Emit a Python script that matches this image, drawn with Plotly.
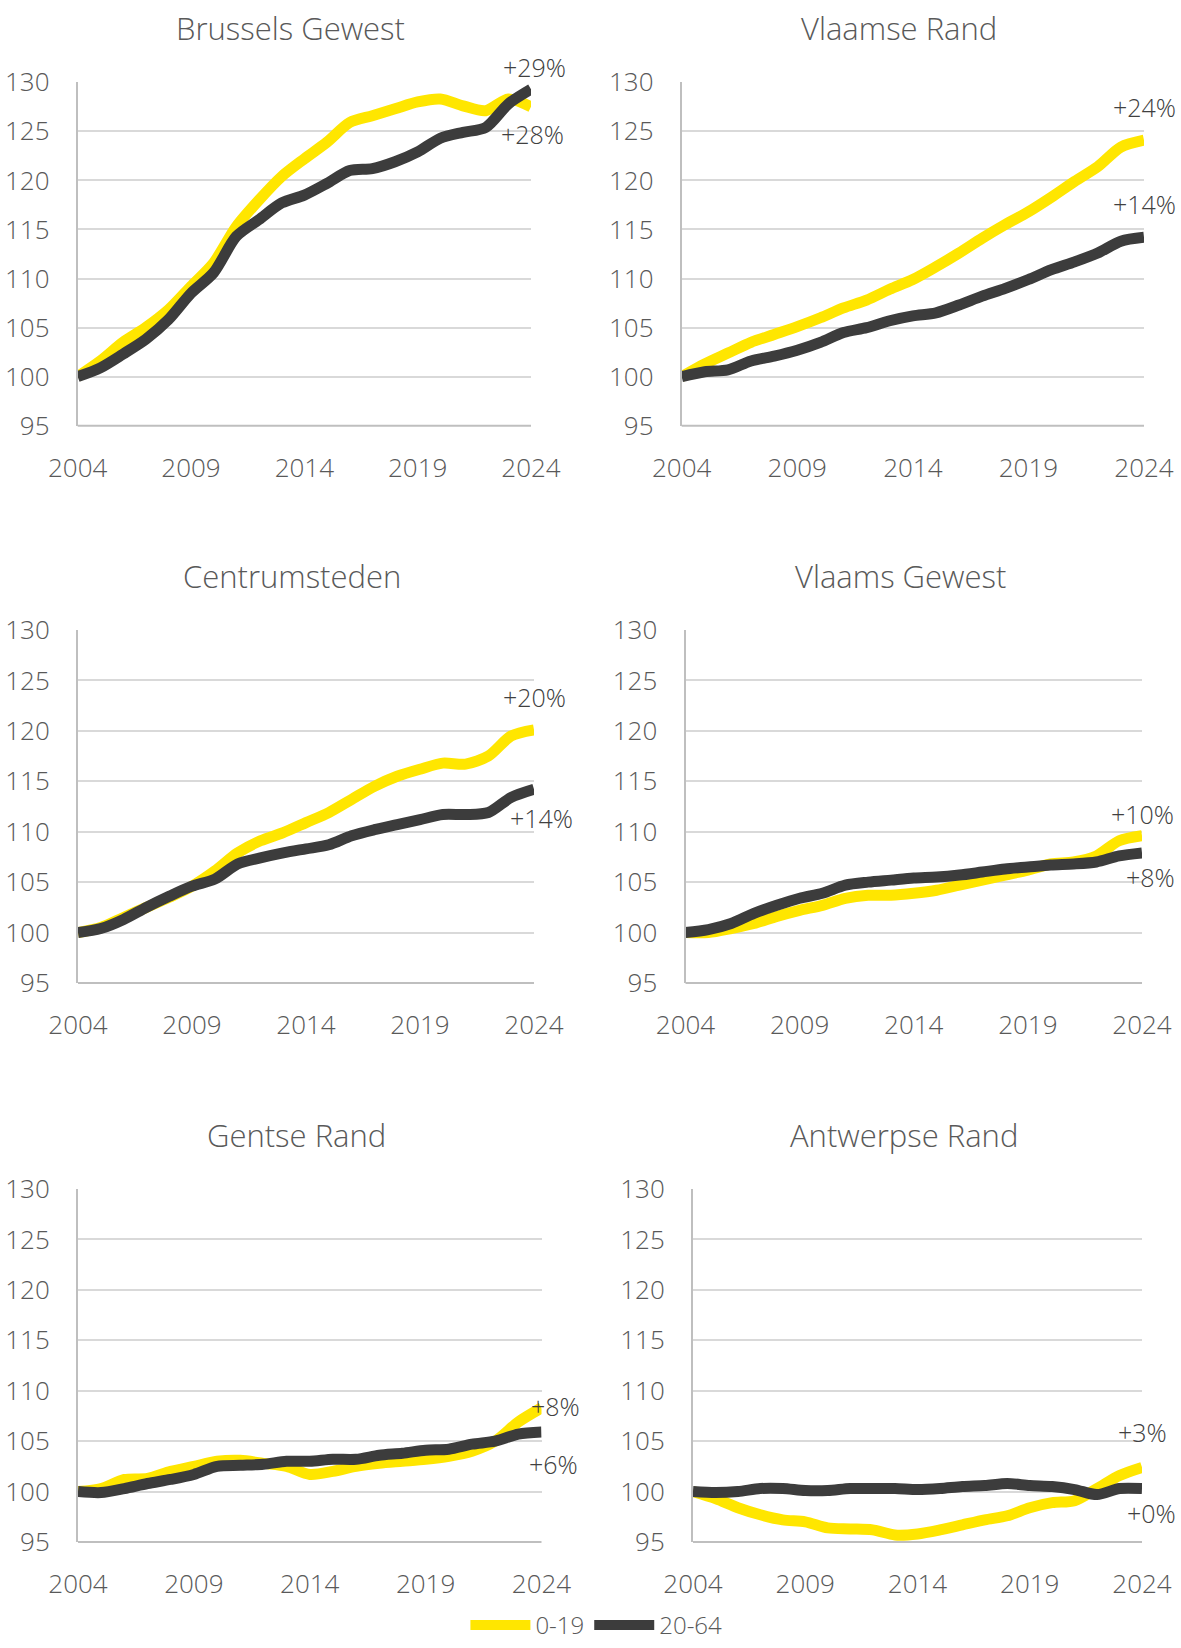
import plotly.graph_objects as go

# ---------------- data ----------------
years = list(range(2004, 2025))
x_ticks = [2004, 2009, 2014, 2019, 2024]
y_ticks = [95, 100, 105, 110, 115, 120, 125, 130]

panel_titles = ["Brussels Gewest", "Vlaamse Rand", "Centrumsteden",
                "Vlaams Gewest", "Gentse Rand", "Antwerpse Rand"]
series_names = ["0-19", "20-64"]

brussels_0_19 = [100, 101.6, 103.5, 105.0, 106.8, 109.2, 111.6, 115.3, 118.0, 120.4, 122.2,
                 123.9, 125.9, 126.6, 127.3, 128.0, 128.3, 127.6, 127.1, 128.3, 127.5]
brussels_20_64 = [100, 100.9, 102.3, 103.8, 105.8, 108.5, 110.6, 114.3, 116.0, 117.7, 118.5,
                  119.7, 121.0, 121.2, 121.9, 122.9, 124.3, 124.9, 125.4, 127.8, 129.3]

vlrand_0_19 = [100, 101.3, 102.4, 103.5, 104.3, 105.1, 106.0, 107.0, 107.8, 108.9, 109.9,
               111.2, 112.6, 114.1, 115.5, 116.8, 118.3, 119.9, 121.4, 123.4, 124.1]
vlrand_20_64 = [100, 100.5, 100.7, 101.6, 102.1, 102.7, 103.5, 104.5, 105.0, 105.7, 106.2,
                106.5, 107.3, 108.2, 109.0, 109.9, 110.9, 111.7, 112.6, 113.8, 114.2]

centrum_0_19 = [100, 100.5, 101.5, 102.5, 103.5, 104.6, 106.1, 107.9, 109.1, 109.9, 110.9,
                111.9, 113.2, 114.5, 115.5, 116.2, 116.8, 116.7, 117.5, 119.5, 120.1]
centrum_20_64 = [100, 100.4, 101.3, 102.5, 103.6, 104.6, 105.3, 106.8, 107.4, 107.9, 108.3,
                 108.7, 109.6, 110.2, 110.7, 111.2, 111.7, 111.7, 111.9, 113.4, 114.2]

vlgewest_0_19 = [100, 100.0, 100.4, 100.9, 101.6, 102.2, 102.7, 103.4, 103.7, 103.7, 103.9,
                 104.2, 104.7, 105.2, 105.7, 106.2, 106.8, 107.0, 107.6, 109.1, 109.6]
vlgewest_20_64 = [100, 100.3, 100.9, 101.9, 102.7, 103.4, 103.9, 104.7, 105.0, 105.2, 105.4,
                  105.5, 105.7, 106.0, 106.3, 106.5, 106.7, 106.8, 107.0, 107.6, 107.9]

gent_0_19 = [100, 100.3, 101.2, 101.3, 102.0, 102.5, 103.0, 103.1, 102.8, 102.5, 101.7,
             102.0, 102.5, 102.8, 103.0, 103.2, 103.5, 104.0, 105.0, 106.9, 108.3]
gent_20_64 = [100, 99.9, 100.3, 100.8, 101.2, 101.7, 102.5, 102.6, 102.7, 103.0, 103.0,
              103.2, 103.2, 103.6, 103.8, 104.1, 104.2, 104.7, 105.0, 105.7, 105.9]

antw_0_19 = [100, 99.3, 98.4, 97.7, 97.2, 97.0, 96.4, 96.3, 96.2, 95.7, 95.8,
             96.2, 96.7, 97.2, 97.6, 98.4, 98.9, 99.1, 100.3, 101.6, 102.4]
antw_20_64 = [100, 99.9, 100.0, 100.3, 100.3, 100.1, 100.1, 100.3, 100.3, 100.3, 100.2,
              100.3, 100.5, 100.6, 100.8, 100.6, 100.5, 100.2, 99.7, 100.3, 100.3]

values_0_19 = [brussels_0_19, vlrand_0_19, centrum_0_19, vlgewest_0_19, gent_0_19, antw_0_19]
values_20_64 = [brussels_20_64, vlrand_20_64, centrum_20_64, vlgewest_20_64, gent_20_64, antw_20_64]

# end labels: (text, value position)
end_labels = [
    [("+29%", 131.6), ("+28%", 124.7)],
    [("+24%", 127.5), ("+14%", 117.6)],
    [("+20%", 123.4), ("+14%", 111.4)],
    [("+10%", 111.8), ("+8%", 105.5)],
    [("+8%", 108.5), ("+6%", 102.7)],
    [("+3%", 105.9), ("+0%", 97.9)],
]

# ---------------- layout / style ----------------
W, H = 1181, 1648
FONT = "Open Sans"
TXT = "#595959"
LBL = "#404040"
YELLOW = "#FFE600"
DARK = "#3C3C3C"
GRID = "#D9D9D9"
AXLINE = "#BFBFBF"

# plot boxes in pixels (left, right, top, bottom)
boxes = [
    (77.7, 531, 82.3, 425.7),
    (681.7, 1144, 82.3, 425.7),
    (78, 534, 630, 983),
    (685.5, 1142, 630, 983),
    (78, 541.5, 1189, 1542),
    (693, 1142, 1189, 1542),
]
title_pos = [(290.5, 28), (899, 28), (291.5, 576), (900, 576), (296, 1135), (903.6, 1135)]
label_xshift = [(3, 1), (0, 0), (0, 7), (0, 8), (14, 12), (0, 9)]

fig = go.Figure()
annotations = []
layout_axes = {}

for i in range(6):
    n = "" if i == 0 else str(i + 1)
    xa, ya = "x" + n, "y" + n
    l, r, t, b = boxes[i]
    layout_axes["xaxis" + n] = dict(
        domain=[l / W, r / W], anchor=ya, range=[2004, 2024],
        tickvals=x_ticks, ticktext=[str(v) for v in x_ticks],
        showgrid=False, zeroline=False, showline=False, ticks="",
        tickfont=dict(family=FONT, size=26, color=TXT, weight=300),
        ticklabelstandoff=24, fixedrange=True, automargin=False,
    )
    layout_axes["yaxis" + n] = dict(
        domain=[1 - b / H, 1 - t / H], anchor=xa, range=[95, 130],
        tickvals=y_ticks, showgrid=True, gridcolor=GRID, gridwidth=2,
        zeroline=False, showline=True, linecolor=AXLINE, linewidth=2,
        ticks="", tickfont=dict(family=FONT, size=26, color=TXT, weight=300),
        ticklabelstandoff=21, fixedrange=True, automargin=False,
    )
    fig.add_trace(go.Scatter(
        x=years, y=values_0_19[i], mode="lines", name=series_names[0],
        line=dict(color=YELLOW, width=11, shape="spline", smoothing=0.8),
        xaxis=xa, yaxis=ya, showlegend=(i == 0), legendrank=1,
    ))
    fig.add_trace(go.Scatter(
        x=years, y=values_20_64[i], mode="lines", name=series_names[1],
        line=dict(color=DARK, width=11, shape="spline", smoothing=0.8),
        xaxis=xa, yaxis=ya, showlegend=(i == 0), legendrank=2,
    ))
    # bottom axis line (at 95)
    fig.add_shape(type="line", xref=xa + " domain", yref=ya + " domain",
                  x0=0, x1=1, y0=0, y1=0, line=dict(color=AXLINE, width=2), layer="below")
    # title
    tx, ty = title_pos[i]
    annotations.append(dict(text=panel_titles[i], x=tx / W, y=1 - ty / H, xref="paper", yref="paper",
                            xanchor="center", yanchor="middle", showarrow=False,
                            font=dict(family=FONT, size=31, color=TXT, weight=300)))
    # end labels
    for j, (txt, v) in enumerate(end_labels[i]):
        annotations.append(dict(text=txt, x=1, y=(v - 95) / 35, xref=xa + " domain", yref=ya + " domain",
                                xanchor="center", yanchor="middle", showarrow=False,
                                xshift=label_xshift[i][j],
                                font=dict(family=FONT, size=25, color=LBL, weight=300)))

fig.update_layout(
    width=W, height=H, margin=dict(l=0, r=0, t=0, b=0, autoexpand=False),
    paper_bgcolor="white", plot_bgcolor="white",
    annotations=annotations,
    legend=dict(orientation="h", x=0.505, xanchor="center", y=0, yanchor="bottom",
                font=dict(family=FONT, size=24, color=TXT, weight=300), itemwidth=60,
                bgcolor="rgba(0,0,0,0)"),
    **layout_axes,
)

# remove the default page margin so the figure fills the window exactly
fig.write_html("out.html", config={"displayModeBar": False},
               post_script="document.body.style.margin='0px';document.body.style.overflow='hidden';")
